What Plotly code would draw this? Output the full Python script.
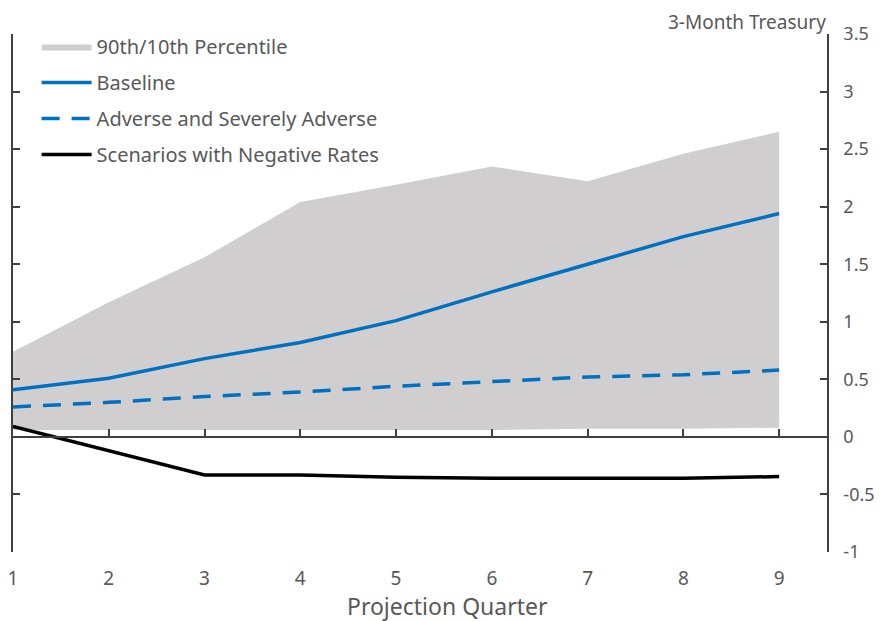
import plotly.graph_objects as go

quarters = [1, 2, 3, 4, 5, 6, 7, 8, 9]
pct_90 = [0.74, 1.17, 1.56, 2.04, 2.19, 2.35, 2.22, 2.46, 2.65]
pct_10 = [0.06, 0.06, 0.06, 0.06, 0.06, 0.06, 0.07, 0.07, 0.08]
baseline = [0.41, 0.51, 0.68, 0.82, 1.01, 1.26, 1.50, 1.74, 1.94]
adverse = [0.26, 0.30, 0.35, 0.39, 0.44, 0.48, 0.52, 0.54, 0.58]
negative = [0.09, -0.12, -0.33, -0.33, -0.35, -0.36, -0.36, -0.36, -0.345]
y_ticks = [-1, -0.5, 0, 0.5, 1, 1.5, 2, 2.5, 3, 3.5]
y_labels = ["-1", "-0.5", "0", "0.5", "1", "1.5", "2", "2.5", "3", "3.5"]

TEXT = "#595959"
BLUE = "#0070C0"
GREY = "#D0CECF"
FONT = "Noto Sans"

fig = go.Figure()
fig.add_trace(go.Scatter(x=quarters, y=pct_10, mode="lines", line=dict(width=0, color=GREY),
                         showlegend=False, hoverinfo="skip", legendgroup="a"))
fig.add_trace(go.Scatter(x=quarters, y=pct_90, mode="lines", line=dict(width=0, color=GREY),
                         fill="tonexty", fillcolor=GREY, name="90th/10th Percentile", legendgroup="a"))
fig.add_trace(go.Scatter(x=quarters, y=baseline, mode="lines", line=dict(color=BLUE, width=3.5),
                         name="Baseline", legendgroup="b"))
fig.add_trace(go.Scatter(x=quarters, y=adverse, mode="lines",
                         line=dict(color=BLUE, width=3.5, dash="18px,12px"),
                         name="Adverse and Severely Adverse", legendgroup="c"))
fig.add_trace(go.Scatter(x=quarters, y=negative, mode="lines", line=dict(color="black", width=3.5),
                         name="Scenarios with Negative Rates", legendgroup="d"))
# carrier for the bottom label axis
fig.add_trace(go.Scatter(x=[], y=[], xaxis="x2", showlegend=False))

y_min, y_max = -1, 3.5
zero_pos = (0 - y_min) / (y_max - y_min)

fig.update_layout(
    width=883, height=621,
    margin=dict(l=5, r=64, t=26, b=77),
    paper_bgcolor="white", plot_bgcolor="white",
    font=dict(family=FONT, color=TEXT, size=16),
    showlegend=True,
    legend=dict(x=0.029, y=1.0135, xanchor="left", yanchor="top", bgcolor="rgba(0,0,0,0)",
                font=dict(size=20, color=TEXT), traceorder="grouped", tracegroupgap=7,
                itemwidth=50),
    xaxis=dict(range=[1, 9.5], tickvals=quarters, showticklabels=False, showgrid=False,
               zeroline=False, showline=True, linecolor="#404040", linewidth=1.5,
               ticks="inside", ticklen=7, tickcolor="#404040", tickwidth=1.5,
               anchor="free", position=zero_pos, automargin=False),
    xaxis2=dict(matches="x", overlaying="x", anchor="y", side="bottom", tickvals=quarters,
                showgrid=False, zeroline=False, showline=False, ticks="",
                tickfont=dict(size=19, color=TEXT), ticklabelstandoff=13, automargin=False,
                ticklabeloverflow="allow"),
    yaxis=dict(range=[y_min, y_max], tickvals=y_ticks, ticktext=y_labels, side="right",
               showgrid=False, zeroline=False,
               showline=True, mirror="ticks", linecolor="#404040", linewidth=1.5,
               ticks="inside", ticklen=7, tickcolor="#404040", tickwidth=1.5,
               tickfont=dict(size=18, color=TEXT), ticklabelstandoff=11, automargin=False,
               ticklabeloverflow="allow"),
    annotations=[
        dict(text="3-Month Treasury", x=1.0, y=1.05, xref="paper", yref="paper",
             xanchor="right", yanchor="top", showarrow=False, borderpad=0,
             font=dict(size=19, color=TEXT)),
        dict(text="Projection Quarter", x=0.534, y=-0.104, xref="paper", yref="paper",
             xanchor="center", yanchor="middle", showarrow=False, font=dict(size=23, color=TEXT)),
    ],
)

fig.write_html("out.html")
